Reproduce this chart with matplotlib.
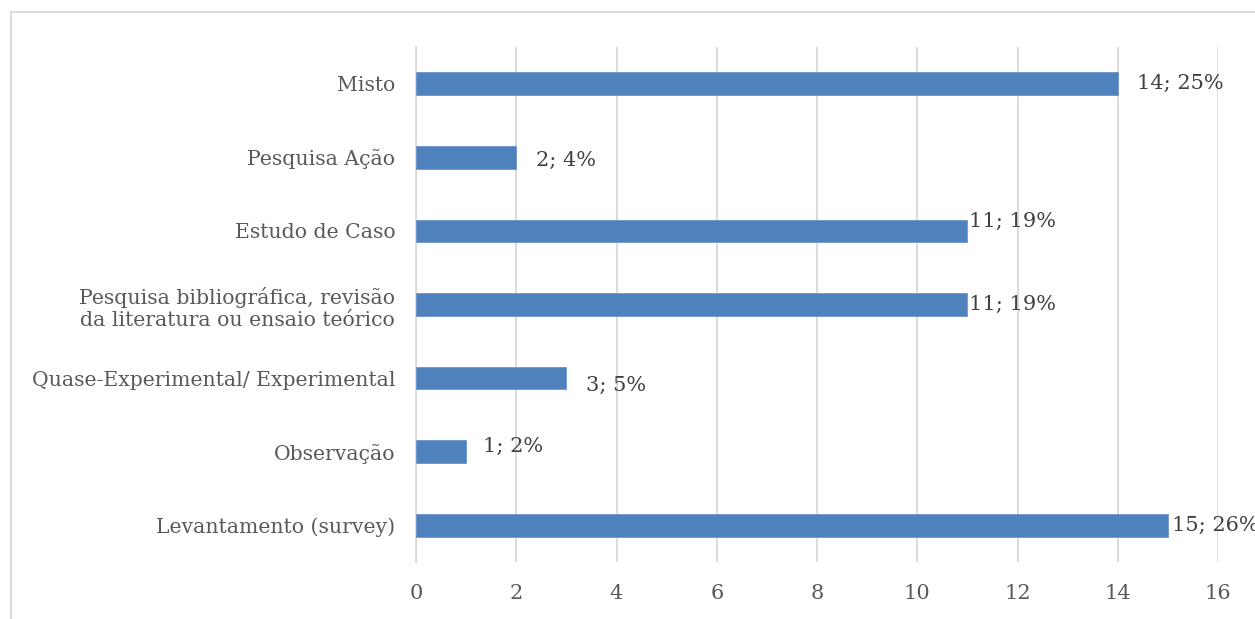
import numpy as np
import matplotlib.pyplot as plt
from matplotlib.lines import Line2D

plt.rcParams['font.family'] = ['DejaVu Serif']

# categorias de baixo para cima
categorias = [
    "Levantamento (survey)",
    "Observação",
    "Quase-Experimental/ Experimental",
    "Pesquisa bibliográfica, revisão\nda literatura ou ensaio teórico",
    "Estudo de Caso",
    "Pesquisa Ação",
    "Misto",
]
valores = [15, 1, 3, 11, 11, 2, 14]
# deslocamento dos rótulos de dados (pontos)
desloc = [(3, 0), (12, 4), (14, -5), (1, 0), (1, 7), (14, -2), (14, 0)]

total = sum(valores)
cinza = "#595959"

fig = plt.figure(figsize=(12.55, 6.19), dpi=100)
ax = fig.add_axes([416 / 1255, 1 - 562 / 619, (1218 - 416) / 1255, (562 - 47) / 619])

y = np.arange(len(categorias))
ax.barh(y, valores, height=0.31, color="#4F81BD", edgecolor="#6C96C8", linewidth=0.6, zorder=3)

for yi, v, (dx, dy) in zip(y, valores, desloc):
    pct = round(v / total * 100)
    ax.annotate(f"{v}; {pct}%", xy=(v, yi), xytext=(dx, dy), textcoords="offset points",
                ha="left", va="center", fontsize=15, color="#404040", zorder=4)

ax.set_xlim(0, 16)
ax.set_ylim(-0.5, len(categorias) - 0.5)
ax.set_xticks(np.arange(0, 17, 2))
ax.set_yticks(y)
ax.set_yticklabels(categorias)
ax.tick_params(axis="y", length=0, pad=15, labelsize=14.7, labelcolor=cinza)
ax.tick_params(axis="x", length=0, pad=16, labelsize=15, labelcolor=cinza)
ax.grid(axis="x", color="#D9D9D9", linewidth=1.3, zorder=0)
for s in ["top", "right", "bottom"]:
    ax.spines[s].set_visible(False)
ax.spines["left"].set_color("#D9D9D9")
ax.spines["left"].set_linewidth(1.3)

# moldura externa do gráfico
fig.add_artist(Line2D([11 / 1255, 11 / 1255], [0, 1 - 12 / 619], color="#D9D9D9", linewidth=1.3))
fig.add_artist(Line2D([11 / 1255, 1], [1 - 12 / 619, 1 - 12 / 619], color="#D9D9D9", linewidth=1.3))

fig.savefig("out.png", dpi=100)
